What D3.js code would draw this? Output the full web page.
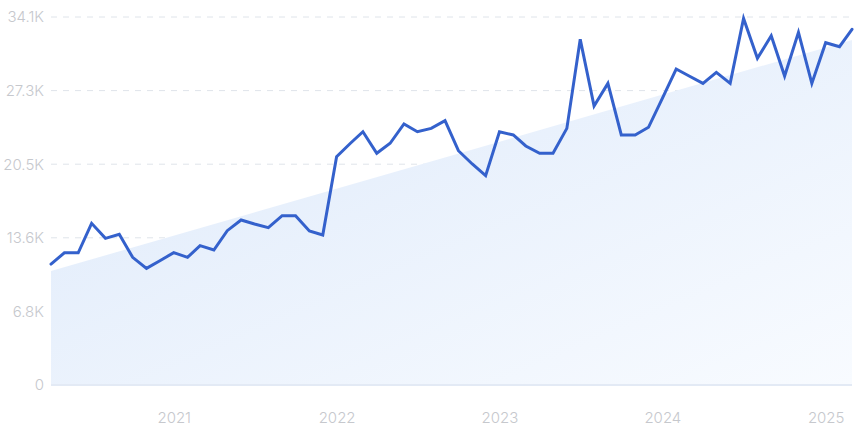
<!DOCTYPE html>
<html><head><meta charset="utf-8">
<script src="https://cdn.jsdelivr.net/npm/d3@7"></script>
<style>
html,body{margin:0;padding:0;background:#fff;}
svg{display:block;font-family:Inter,"Noto Sans",sans-serif;}
</style></head>
<body><svg id="c" width="861" height="432"></svg>
<script>
const startMonth = "2020-04";
const values = [11200,12250,12250,14980,13590,13960,11830,10810,11520,12260,11830,12910,12510,14300,15290,14920,14580,15690,15690,14270,13900,
21160,22400,23470,21470,22400,24190,23470,23780,24490,21710,20480,19400,23470,23170,22150,21470,21470,23780,
32030,25850,27950,23170,23170,23880,26560,29280,28630,27950,28970,27950,33970,30270,32370,28630,32680,27950,31720,31350,32960];
const trendValues = [10560, 31970];
const yTicks = [0, 6820, 13640, 20460, 27280, 34100];
const yTickLabels = ["0","6.8K","13.6K","20.5K","27.3K","34.1K"];
const xTickYears = [2021, 2022, 2023, 2024, 2025];

const parse = d3.timeParse("%Y-%m");
const start = parse(startMonth);
const dates = values.map((v,i)=>d3.timeMonth.offset(start,i));
const data = values.map((v,i)=>({d:dates[i], v}));

const svg = d3.select("#c");
const x = d3.scaleTime().domain([dates[0], dates[dates.length-1]]).range([51, 852]);
const y = d3.scaleLinear().domain([0, 34100]).range([385, 17]);

const defs = svg.append("defs");
const g = defs.append("linearGradient").attr("id","ag")
  .attr("x1","0%").attr("y1","0%").attr("x2","100%").attr("y2","100%");
g.append("stop").attr("offset","0%").attr("stop-color","#dde9fa");
g.append("stop").attr("offset","100%").attr("stop-color","#f8fbff");

// grid
svg.append("g").selectAll("line").data(yTicks.slice(1)).join("line")
  .attr("x1",51).attr("x2",852).attr("y1",d=>y(d)).attr("y2",d=>y(d))
  .attr("stroke","#dfe4ea").attr("stroke-width",1).attr("stroke-dasharray","6,6");

// trend area
const trend = [{d:dates[0], v:trendValues[0]},{d:dates[dates.length-1], v:trendValues[1]}];
svg.append("path").datum(trend)
  .attr("d", d3.area().x(d=>x(d.d)).y0(y(0)).y1(d=>y(d.v)))
  .attr("fill","url(#ag)");
svg.append("line").attr("x1",51).attr("x2",852).attr("y1",y(0)).attr("y2",y(0))
  .attr("stroke","#e3eaf5").attr("stroke-width",2);

// y axis labels
const yAxis = d3.axisLeft(y).tickValues(yTicks).tickFormat((d,i)=>yTickLabels[i]).tickSize(0).tickPadding(0);
const ya = svg.append("g").attr("transform","translate(44,0)").call(yAxis);
ya.select(".domain").remove();
ya.selectAll("text").attr("fill","#c6c8cd").style("font-size","15px").style("font-weight","300").style("font-family","Inter,'Noto Sans',sans-serif");

// x axis labels
const xAxis = d3.axisBottom(x).tickValues(xTickYears.map(yr=>new Date(yr,0,1))).tickFormat(d3.timeFormat("%Y")).tickSize(0).tickPadding(0);
const xa = svg.append("g").attr("transform","translate(0,412)").call(xAxis);
xa.select(".domain").remove();
xa.selectAll("text").attr("fill","#c6c8cd").style("font-size","15px").style("font-weight","300").style("font-family","Inter,'Noto Sans',sans-serif");

// line
svg.append("path").datum(data)
  .attr("d", d3.line().x(d=>x(d.d)).y(d=>y(d.v)))
  .attr("fill","none").attr("stroke","#3461cc").attr("stroke-width",3)
  .attr("stroke-linejoin","miter").attr("stroke-linecap","round");
</script></body></html>
